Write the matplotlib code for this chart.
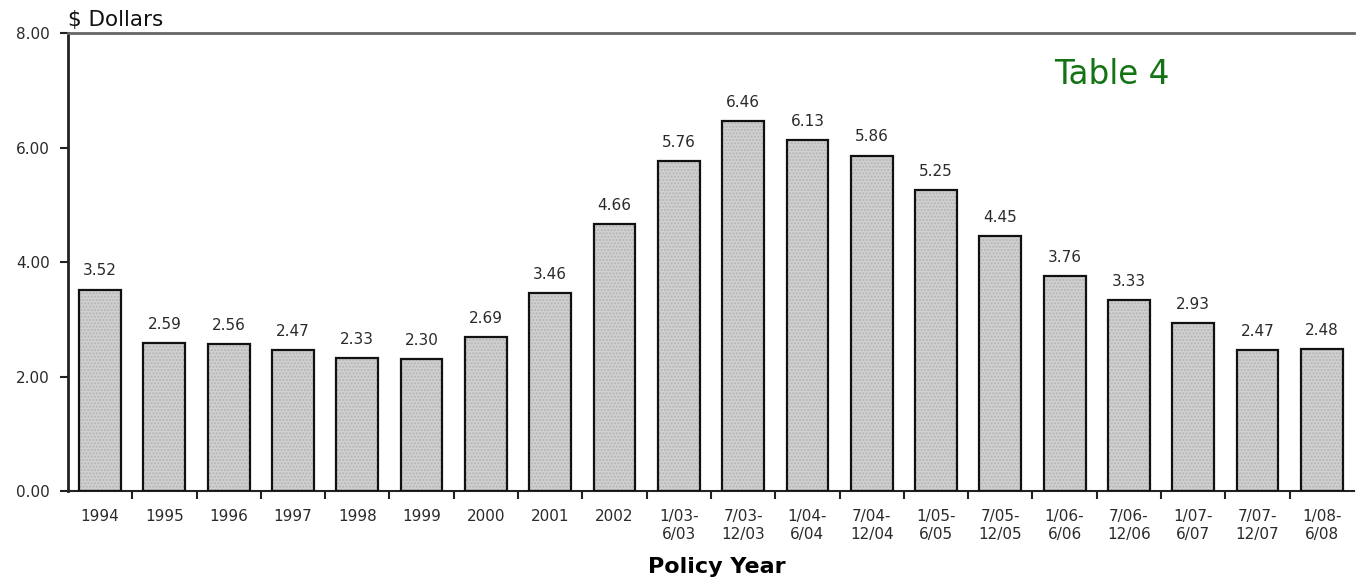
import matplotlib
matplotlib.use("Agg")
import matplotlib.pyplot as plt
from matplotlib.ticker import FixedLocator, FuncFormatter

plt.rcParams['font.family'] = ['DejaVu Sans']

periods = ["1994", "1995", "1996", "1997", "1998", "1999", "2000", "2001", "2002",
           "1/03-\n6/03", "7/03-\n12/03", "1/04-\n6/04", "7/04-\n12/04",
           "1/05-\n6/05", "7/05-\n12/05", "1/06-\n6/06", "7/06-\n12/06",
           "1/07-\n6/07", "7/07-\n12/07", "1/08-\n6/08"]
dollars = [3.52, 2.59, 2.56, 2.47, 2.33, 2.30, 2.69, 3.46, 4.66,
           5.76, 6.46, 6.13, 5.86, 5.25, 4.45, 3.76, 3.33, 2.93, 2.47, 2.48]
y_ticks = [0, 2, 4, 6, 8]

fig = plt.figure(figsize=(13.56, 5.8), dpi=100)
ax = fig.add_axes([0.0501, 0.1534, 0.9484, 0.7896])

x = list(range(len(periods)))
# stippled fill underneath, then a crisp black outline
ax.bar(x, dollars, width=0.65, color='#d0d0d0', hatch='.....',
       edgecolor='#b4b4b4', linewidth=0, zorder=2)
ax.bar(x, dollars, width=0.65, color='none', edgecolor='#111111',
       linewidth=1.6, zorder=3)

for xi, v in zip(x, dollars):
    ax.annotate(f"{v:.2f}", (xi, v), xytext=(0, 8), textcoords='offset points',
                ha='center', va='bottom', fontsize=11, color='#2a2a2a')

ax.set_xlim(-0.5, len(periods) - 0.5)
ax.set_ylim(0, 8)

ax.set_xticks(x)
ax.set_xticklabels(periods, fontsize=11, color='#2a2a2a', linespacing=1.25)
ax.xaxis.set_minor_locator(FixedLocator([i + 0.5 for i in range(len(periods) - 1)]))
ax.tick_params(axis='x', which='major', length=0, pad=13)
ax.tick_params(axis='x', which='minor', length=6, width=1.5, direction='out', color='#222222')

ax.set_yticks(y_ticks)
ax.yaxis.set_major_formatter(FuncFormatter(lambda v, p: f"{v:.2f}"))
ax.tick_params(axis='y', length=6, width=1.5, direction='out', labelsize=11,
               color='#222222', labelcolor='#2a2a2a', pad=7)

ax.spines['right'].set_visible(False)
ax.spines['top'].set_color('#666666')
ax.spines['top'].set_linewidth(2)
ax.spines['left'].set_color('#222222')
ax.spines['left'].set_linewidth(2)
ax.spines['bottom'].set_color('#222222')
ax.spines['bottom'].set_linewidth(1.5)

fig.text(68 / 1356, 1 - 20 / 580, "$ Dollars", fontsize=15.5, color='#111111',
         ha='left', va='center')
fig.text(717 / 1356, 1 - 567 / 580, "Policy Year", fontsize=16, fontweight='bold',
         color='#000000', ha='center', va='center')
fig.text(1112 / 1356, 1 - 75 / 580, "Table 4", fontsize=23.5, color='#147314',
         ha='center', va='center')

fig.savefig("out.png", dpi=100)
